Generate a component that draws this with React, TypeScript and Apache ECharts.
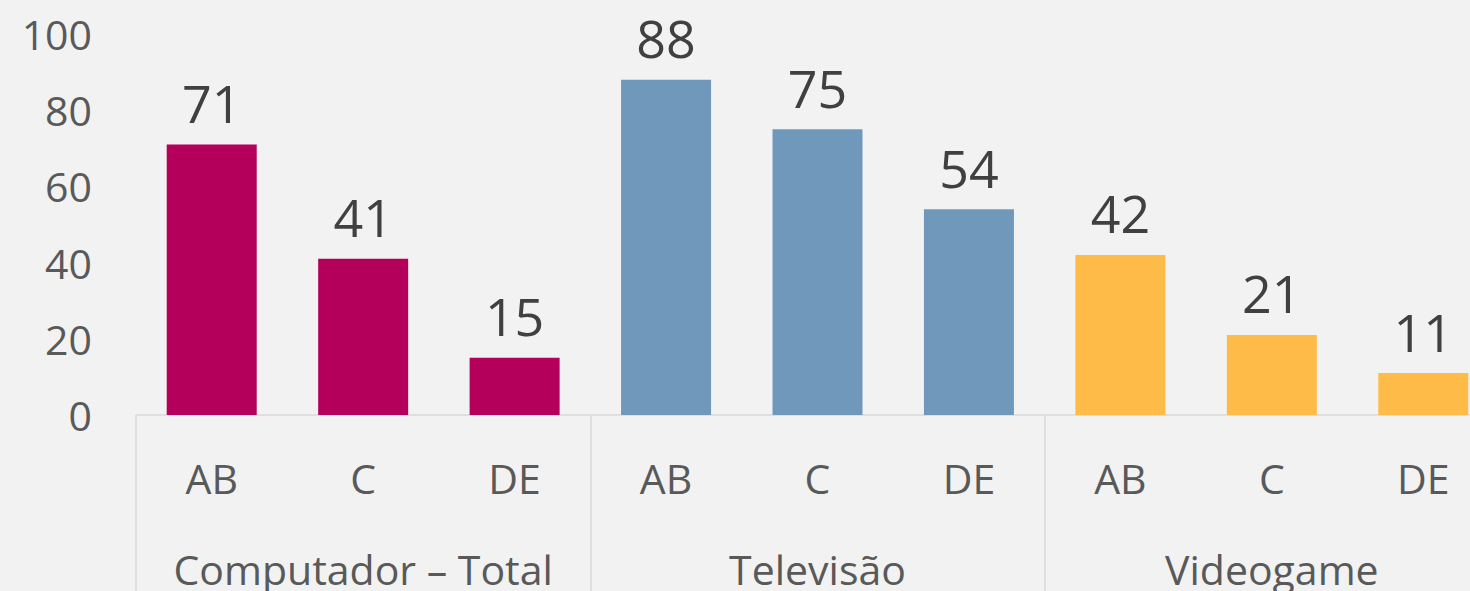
import React, { useEffect, useRef } from "react";
import * as echarts from "echarts";

const subCategories = ["AB", "C", "DE", "AB", "C", "DE", "AB", "C", "DE"];
const groups = ["Computador – Total", "Televisão", "Videogame"];
const values = [71, 41, 15, 88, 75, 54, 42, 21, 11];
const groupColors = ["#b5005b", "#7098bb", "#ffbb48"];
const yTicks = { min: 0, max: 100, interval: 20 };

const FONT = '"Segoe UI", "Open Sans", "Noto Sans", sans-serif';

export default function App() {
  const ref = useRef<HTMLDivElement>(null);
  useEffect(() => {
    if (!ref.current) return;
    const chart = echarts.init(ref.current, null, { renderer: "svg" });
    chart.setOption({
      animation: false,
      backgroundColor: "#f2f2f2",
      grid: { left: 136, right: 1, top: 34, bottom: 176, containLabel: false },
      xAxis: [
        {
          type: "category",
          data: subCategories,
          position: "bottom",
          axisLine: { show: true, lineStyle: { color: "#d9d9d9", width: 1.5 } },
          axisTick: { show: false },
          axisLabel: { margin: 42, fontSize: 41, color: "#595959", fontFamily: FONT, interval: 0 },
        },
        {
          type: "category",
          data: groups,
          position: "bottom",
          axisLine: { show: false },
          axisTick: { show: true, length: 220, lineStyle: { color: "#d9d9d9", width: 1.5 } },
          axisLabel: { margin: 133, fontSize: 41, color: "#595959", fontFamily: FONT, interval: 0 },
        },
      ],
      yAxis: {
        type: "value",
        min: yTicks.min,
        max: yTicks.max,
        interval: yTicks.interval,
        axisLine: { show: false },
        axisTick: { show: false },
        splitLine: { show: false },
        axisLabel: { margin: 44, fontSize: 41, color: "#595959", fontFamily: FONT },
      },
      series: [
        {
          type: "bar",
          xAxisIndex: 0,
          data: values.map((v, i) => ({
            value: v,
            itemStyle: { color: groupColors[Math.floor(i / 3)] },
          })),
          barWidth: 90,
          label: {
            show: true,
            position: "top",
            distance: 16,
            fontSize: 52,
            color: "#404040",
            fontFamily: FONT,
          },
        },
      ],
    });
    return () => chart.dispose();
  }, []);
  return (
    <div style={{ position: "fixed", left: 0, top: 0, width: 1470, height: 591, overflow: "hidden", background: "#f2f2f2" }}>
      <div ref={ref} style={{ width: 1500, height: 591 }} />
    </div>
  );
}
